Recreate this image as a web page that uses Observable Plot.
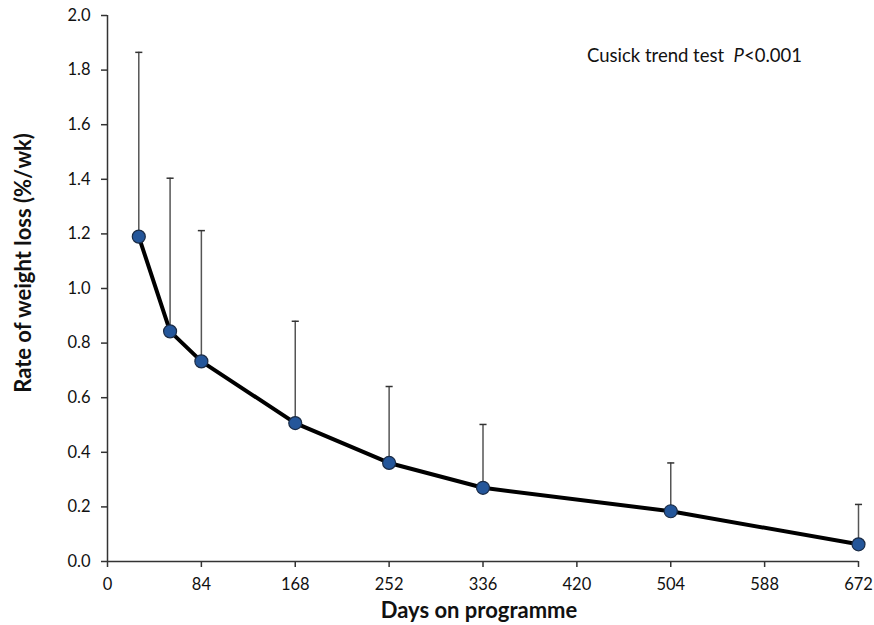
<!DOCTYPE html>
<html><head><meta charset="utf-8">
<script src="https://cdn.jsdelivr.net/npm/d3@7"></script>
<script src="https://cdn.jsdelivr.net/npm/@observablehq/plot@0.6"></script>
<style>
body{margin:0;background:#fff;}
#wrap{position:relative;width:874px;height:625px;font-family:Lato,sans-serif;color:#111;}
#note{position:absolute;left:587px;top:55px;transform:translateY(-50%);font-size:18.5px;white-space:nowrap;}
#xlab{position:absolute;left:380px;width:198px;top:609px;transform:translateY(-50%);text-align:center;font-size:22px;font-weight:bold;white-space:nowrap;}
#ylab{position:absolute;left:22px;top:263px;transform:translate(-50%,-50%) rotate(-90deg);font-size:22px;font-weight:bold;white-space:nowrap;}
</style></head><body>
<div id="wrap">
<div id="chart"></div>
<div id="note">Cusick trend test&nbsp;&nbsp;<i>P</i>&lt;0.001</div>
<div id="xlab">Days on programme</div>
<div id="ylab">Rate of weight loss (%/wk)</div>
</div>
<script>
const days = [28, 56, 84, 168, 252, 336, 504, 672];
const rate = [1.19, 0.843, 0.733, 0.507, 0.361, 0.270, 0.184, 0.063];
const upper = [1.865, 1.404, 1.212, 0.880, 0.641, 0.502, 0.361, 0.209];
const xTicks = [0, 84, 168, 252, 336, 420, 504, 588, 672];
const yTicks = [0, 0.2, 0.4, 0.6, 0.8, 1.0, 1.2, 1.4, 1.6, 1.8, 2.0];

const data = days.map((d, i) => ({day: d, rate: rate[i], upper: upper[i]}));
const capSymbol = {draw(ctx, size) { const w = Math.sqrt(size) / 2; ctx.moveTo(-w, 0); ctx.lineTo(w, 0); }};

const chart = Plot.plot({
  width: 874, height: 625,
  marginLeft: 107, marginRight: 16, marginTop: 15, marginBottom: 64,
  style: {fontFamily: "Lato, sans-serif", fontSize: "16.5px", color: "#111", background: "#fff"},
  x: {domain: [0, 672]},
  y: {domain: [0, 2]},
  marks: [
    Plot.axisX({ticks: xTicks, tickSize: 6, tickPadding: 11, label: null, stroke: "#333", strokeWidth: 1.5}),
    Plot.axisY({ticks: yTicks, tickFormat: d3.format(".1f"), tickSize: 6, tickPadding: 11, label: null, stroke: "#333", strokeWidth: 1.5}),
    Plot.ruleY([0], {stroke: "#333", strokeWidth: 1.5}),
    Plot.ruleX([0], {stroke: "#333", strokeWidth: 1.5}),
    Plot.ruleX(data, {x: "day", y1: "rate", y2: "upper", stroke: "#555", strokeWidth: 1.5}),
    Plot.dot(data, {x: "day", y: "upper", symbol: capSymbol, r: 4, stroke: "#333", strokeWidth: 1.5, fill: "none"}),
    Plot.line(data, {x: "day", y: "rate", stroke: "#000", strokeWidth: 4}),
    Plot.dot(data, {x: "day", y: "rate", r: 6.5, fill: "#24569a", stroke: "#1a2b45", strokeWidth: 1.2})
  ]
});
document.getElementById("chart").appendChild(chart);
</script>
</body></html>
